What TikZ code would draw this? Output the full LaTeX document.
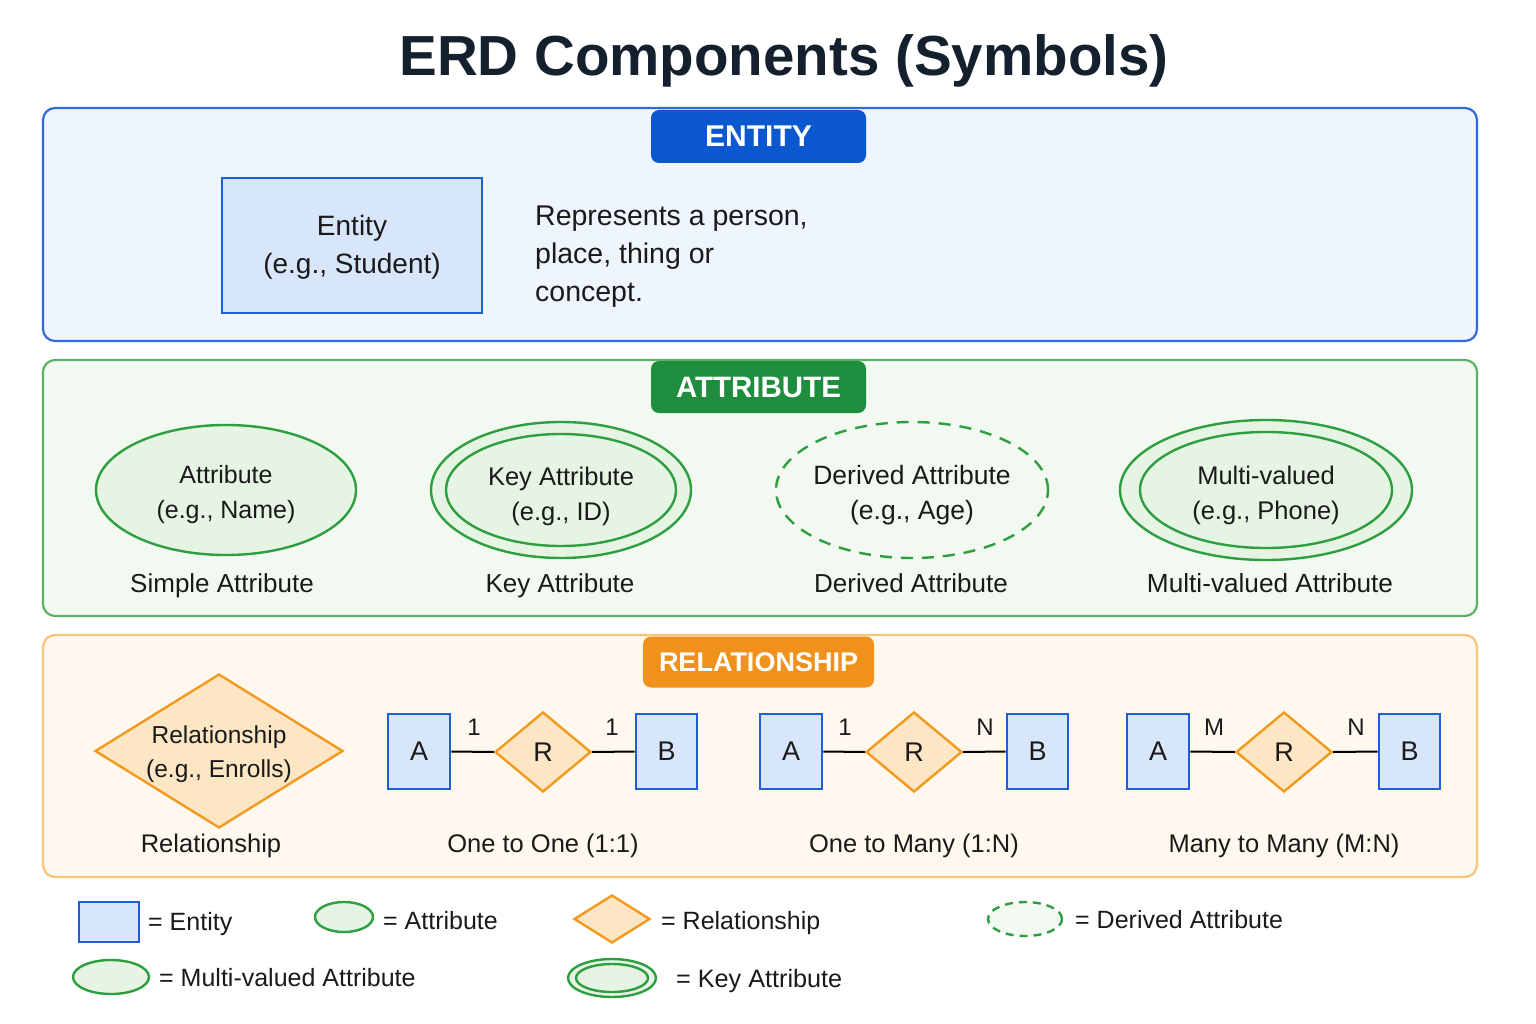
\documentclass[tikz,border=0pt]{standalone}
\usepackage{fontspec}
\setmainfont{Liberation Sans}
\usetikzlibrary{shapes.geometric}
\definecolor{txt}{HTML}{1A1A1A}
\definecolor{titlec}{HTML}{14202E}
\definecolor{eStroke}{HTML}{1F5FD6}
\definecolor{eFill}{HTML}{D7E6FB}
\definecolor{ePanel}{HTML}{EFF5FE}
\definecolor{ePanelS}{HTML}{2F6BDB}
\definecolor{eTab}{HTML}{0B57D0}
\definecolor{aStroke}{HTML}{2E9E40}
\definecolor{aFill}{HTML}{E6F4E4}
\definecolor{aPanel}{HTML}{F1F9F0}
\definecolor{aPanelS}{HTML}{5DB267}
\definecolor{aTab}{HTML}{1E8E3E}
\definecolor{rStroke}{HTML}{F39A1E}
\definecolor{rFill}{HTML}{FDE6C3}
\definecolor{rPanel}{HTML}{FFF8EE}
\definecolor{rPanelS}{HTML}{F7C47A}
\definecolor{rTab}{HTML}{F0911C}
\begin{document}
\begin{tikzpicture}[x=1pt,y=-1pt,
  panel/.style={rounded corners=12pt, line width=2.2pt},
  tab/.style={rounded corners=8pt, text=white, inner sep=0pt},
  body/.style={text=txt, font=\fontsize{25.5}{37}\selectfont, align=center, inner sep=0pt},
  lbl/.style={text=txt, font=\fontsize{25.5}{30}\selectfont, inner sep=0pt, text height=19pt, text depth=6pt},
  ent/.style={draw=eStroke, fill=eFill, line width=2.6pt, inner sep=0pt},
  attr/.style={ellipse, draw=aStroke, fill=aFill, line width=2.4pt, inner sep=0pt},
  attrin/.style={ellipse, draw=aStroke, line width=2.4pt, inner sep=0pt},
  rel/.style={diamond, draw=rStroke, fill=rFill, line width=2.4pt, inner sep=0pt},
  conn/.style={draw=black, line width=2pt},
  card/.style={text=txt, font=\fontsize{24}{28}\selectfont, inner sep=0pt}
]
\useasboundingbox[fill=white] (0,0) rectangle (1536,1024);

% Title
\node[text=titlec, font=\fontsize{56.5}{64}\selectfont\bfseries, inner sep=0pt] (title) at (784,61) {ERD Components (Symbols)};

% ===== ENTITY panel =====
\draw[panel, draw=ePanelS, fill=ePanel] (43,108) rectangle (1477,341);
\node[tab, fill=eTab, minimum width=215pt, minimum height=53pt, font=\fontsize{30}{32}\selectfont\bfseries] (etab) at (758.5,136.5) {ENTITY};
\node[ent, minimum width=260pt, minimum height=135pt] (entbox) at (352,245.5) {};
\node[body, font=\fontsize{28}{38}\selectfont] (enttxt) at (352,247.5) {Entity\\(e.g., Student)};
\node[body, align=left, anchor=west, font=\fontsize{28.5}{38}\selectfont] (desc) at (535,257) {Represents a person,\\place, thing or\\concept.};

% ===== ATTRIBUTE panel =====
\draw[panel, draw=aPanelS, fill=aPanel] (43,360) rectangle (1477,616);
\node[tab, fill=aTab, minimum width=215pt, minimum height=52pt, font=\fontsize{29.5}{32}\selectfont\bfseries] (atab) at (758.5,387) {ATTRIBUTE};

\node[attr, minimum width=260pt, minimum height=130pt] (simple) at (226,490) {};
\node[body, font=\fontsize{25}{35}\selectfont] (simpletxt) at (226,495) {Attribute\\(e.g., Name)};
\node[lbl, font=\fontsize{26}{30}\selectfont] (simplelbl) at (222,586) {Simple Attribute};

\node[attr, minimum width=260pt, minimum height=136pt] (keyout) at (561,490) {};
\node[attrin, minimum width=230pt, minimum height=112pt] (keyin) at (561,490) {};
\node[body, font=\fontsize{25.5}{35}\selectfont] (keytxt) at (561,496) {Key Attribute\\(e.g., ID)};
\node[lbl, font=\fontsize{26}{30}\selectfont] (keylbl) at (560,586) {Key Attribute};

\node[ellipse, draw=aStroke, fill=aPanel, line width=2.4pt, dash pattern=on 12pt off 9pt, inner sep=0pt, minimum width=272pt, minimum height=136pt] (derived) at (912,490) {};
\node[body, font=\fontsize{26.5}{35}\selectfont] (derivedtxt) at (912,495) {Derived Attribute\\(e.g., Age)};
\node[lbl, font=\fontsize{26}{30}\selectfont] (derivedlbl) at (911,586) {Derived Attribute};

\node[attr, minimum width=292pt, minimum height=140pt] (multiout) at (1266,490) {};
\node[attrin, minimum width=252pt, minimum height=116pt] (multiin) at (1266,490) {};
\node[body, font=\fontsize{25.5}{35}\selectfont] (multitxt) at (1266,495) {Multi-valued\\(e.g., Phone)};
\node[lbl, font=\fontsize{26.2}{30}\selectfont] (multilbl) at (1270,586) {Multi-valued Attribute};

% ===== RELATIONSHIP panel =====
\draw[panel, draw=rPanelS, fill=rPanel] (43,635) rectangle (1477,877);
\node[tab, fill=rTab, minimum width=231pt, minimum height=51pt, font=\fontsize{27}{32}\selectfont\bfseries] (rtab) at (758.5,662) {RELATIONSHIP};

\node[rel, minimum width=248pt, minimum height=154pt] (bigrel) at (219,751) {};
\node[body, font=\fontsize{24.5}{34}\selectfont] (bigreltxt) at (219,754) {Relationship\\(e.g., Enrolls)};
\node[lbl] (bigrellbl) at (211,846) {Relationship};

% 1:1
\node[ent, minimum width=62pt, minimum height=75pt, font=\fontsize{27}{30}\selectfont, text=txt] (A1) at (419,751.5) {A};
\node[rel, minimum width=96pt, minimum height=80pt, font=\fontsize{27}{30}\selectfont, text=txt] (R1) at (543,752) {R};
\node[ent, minimum width=61pt, minimum height=75pt, font=\fontsize{27}{30}\selectfont, text=txt] (B1) at (666.5,751.5) {B};
\draw[conn] (A1.east) -- (R1.west);
\draw[conn] (R1.east) -- (B1.west);
\node[card] (c11) at (474,727) {1};
\node[card] (c12) at (612,727) {1};
\node[lbl] (lbl11) at (543,846) {One to One (1:1)};

% 1:N
\node[ent, minimum width=62pt, minimum height=75pt, font=\fontsize{27}{30}\selectfont, text=txt] (A2) at (791,751.5) {A};
\node[rel, minimum width=96pt, minimum height=80pt, font=\fontsize{27}{30}\selectfont, text=txt] (R2) at (914,752) {R};
\node[ent, minimum width=61pt, minimum height=75pt, font=\fontsize{27}{30}\selectfont, text=txt] (B2) at (1037.5,751.5) {B};
\draw[conn] (A2.east) -- (R2.west);
\draw[conn] (R2.east) -- (B2.west);
\node[card] (c21) at (845,727) {1};
\node[card] (c22) at (985,727) {N};
\node[lbl] (lbl1n) at (914,846) {One to Many (1:N)};

% M:N
\node[ent, minimum width=62pt, minimum height=75pt, font=\fontsize{27}{30}\selectfont, text=txt] (A3) at (1158,751.5) {A};
\node[rel, minimum width=96pt, minimum height=80pt, font=\fontsize{27}{30}\selectfont, text=txt] (R3) at (1284,752) {R};
\node[ent, minimum width=61pt, minimum height=75pt, font=\fontsize{27}{30}\selectfont, text=txt] (B3) at (1409.5,751.5) {B};
\draw[conn] (A3.east) -- (R3.west);
\draw[conn] (R3.east) -- (B3.west);
\node[card] (c31) at (1214,727) {M};
\node[card] (c32) at (1356,727) {N};
\node[lbl] (lblmn) at (1284,846) {Many to Many (M:N)};

% ===== Legend =====
\node[ent, minimum width=60pt, minimum height=40pt] (lgent) at (109,922) {};
\node[lbl, font=\fontsize{25}{30}\selectfont, anchor=west] (lgenttxt) at (148,924) {= Entity};

\node[attr, minimum width=58pt, minimum height=30pt] (lgattr) at (344,917) {};
\node[lbl, font=\fontsize{25}{30}\selectfont, anchor=west] (lgattrtxt) at (383,923) {= Attribute};

\node[rel, minimum width=76pt, minimum height=48pt] (lgrel) at (612,919) {};
\node[lbl, font=\fontsize{25}{30}\selectfont, anchor=west] (lgreltxt) at (661,923) {= Relationship};

\node[ellipse, draw=aStroke, fill=aPanel, line width=2.4pt, dash pattern=on 8pt off 6pt, inner sep=0pt, minimum width=74pt, minimum height=34pt] (lgder) at (1025,919) {};
\node[lbl, font=\fontsize{25}{30}\selectfont, anchor=west] (lgdertxt) at (1075,922) {= Derived Attribute};

\node[attr, minimum width=76pt, minimum height=34pt] (lgmulti) at (111,977) {};
\node[lbl, font=\fontsize{25}{30}\selectfont, anchor=west] (lgmultitxt) at (159,980) {= Multi-valued Attribute};

\node[attr, minimum width=88pt, minimum height=38pt] (lgkeyout) at (612,978) {};
\node[attrin, minimum width=72pt, minimum height=28pt] (lgkeyin) at (612,978) {};
\node[lbl, font=\fontsize{25.2}{30}\selectfont, anchor=west] (lgkeytxt) at (676,981) {= Key Attribute};
\end{tikzpicture}
\end{document}
